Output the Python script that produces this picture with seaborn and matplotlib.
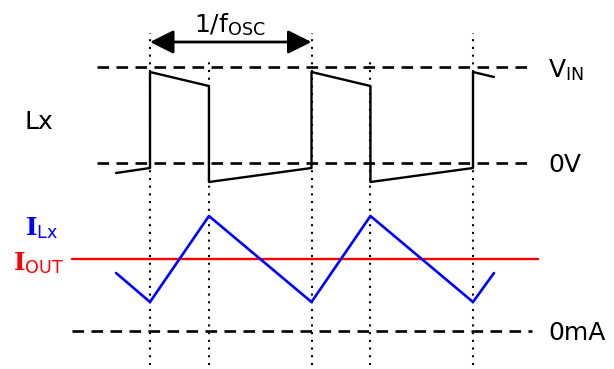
import numpy as np
import matplotlib
matplotlib.use("Agg")
import matplotlib.pyplot as plt
import seaborn as sns

sns.set_style("white")
plt.rcParams['font.family'] = ['DejaVu Sans']
plt.rcParams['mathtext.fontset'] = 'dejavuserif'
plt.rcParams['text.color'] = 'black'

# time in switching periods (1 = 1/fosc), D = on-time
D = 0.365
# Lx node voltage waveform (vertical units, 0V level = 206, VIN level = 302)
lx_t = [-0.21, 0, 0, D, D, 1, 1, 1 + D, 1 + D, 2, 2, 2.13]
lx_v = [196, 201, 297, 283, 187, 201, 297, 283, 187, 201, 297, 292]
# inductor current waveform
il_t = [-0.21, 0, D, 1, 1 + D, 2, 2.13]
il_v = [96, 67, 153, 67, 153, 67, 96]

v_in = 302
v_zero = 206
i_zero = 38
i_out = 110

# dotted timing markers: (time, top)
mark_t = [0, D, 1, 1 + D, 2]
mark_top = [336, 312, 336, 312, 336]

fig = plt.figure(figsize=(6.14, 3.69), dpi=100)
ax = fig.add_axes([0, 0, 1, 1])
ax.set_xlim(-150 / 161.5, 464 / 161.5)
ax.set_ylim(0, 369)
ax.axis('off')

dash = (0, (4.4, 2.8))
ax.hlines([v_in, v_zero], -0.328, 2.365, colors='black', lw=1.9, linestyles=[dash])
ax.hlines([i_zero], -0.483, 2.365, colors='black', lw=1.9, linestyles=[dash])
ax.vlines(mark_t, 4, mark_top, colors='black', lw=1.5, linestyles=[(0, (1, 2.7))])

sns.lineplot(x=[-0.483, 2.402], y=[i_out, i_out], color='#ff0000', lw=1.7, ax=ax)
sns.lineplot(x=lx_t, y=lx_v, sort=False, estimator=None, color='black', lw=1.7, ax=ax)
sns.lineplot(x=il_t, y=il_v, sort=False, estimator=None, color='#0000ff', lw=1.9, ax=ax)

ax.annotate('', xy=(0, 327), xytext=(1, 327),
            arrowprops=dict(arrowstyle='<|-|>,head_length=0.6,head_width=0.3',
                            color='black', lw=2, mutation_scale=24,
                            shrinkA=0, shrinkB=0))

fs = 18
ax.text(0.495, 337, '1/f$_{\\mathregular{OSC}}$', ha='center', va='baseline', fontsize=fs)
ax.text(-125 / 161.5, 240, 'Lx', ha='left', va='baseline', fontsize=fs)
ax.text(398 / 161.5, 292, 'V$_{\\mathregular{IN}}$', ha='left', va='baseline', fontsize=fs)
ax.text(398 / 161.5, 197, '0V', ha='left', va='baseline', fontsize=fs)
ax.text(398 / 161.5, 29, '0mA', ha='left', va='baseline', fontsize=fs)
ax.text(-125 / 161.5, 134, '$\\mathbf{I}_{\\mathregular{Lx}}$', ha='left', va='baseline',
        fontsize=fs, color='#0000ff')
ax.text(-137 / 161.5, 99, '$\\mathbf{I}_{\\mathregular{OUT}}$', ha='left', va='baseline',
        fontsize=fs, color='#ff0000')

fig.savefig('out.png', dpi=100)
